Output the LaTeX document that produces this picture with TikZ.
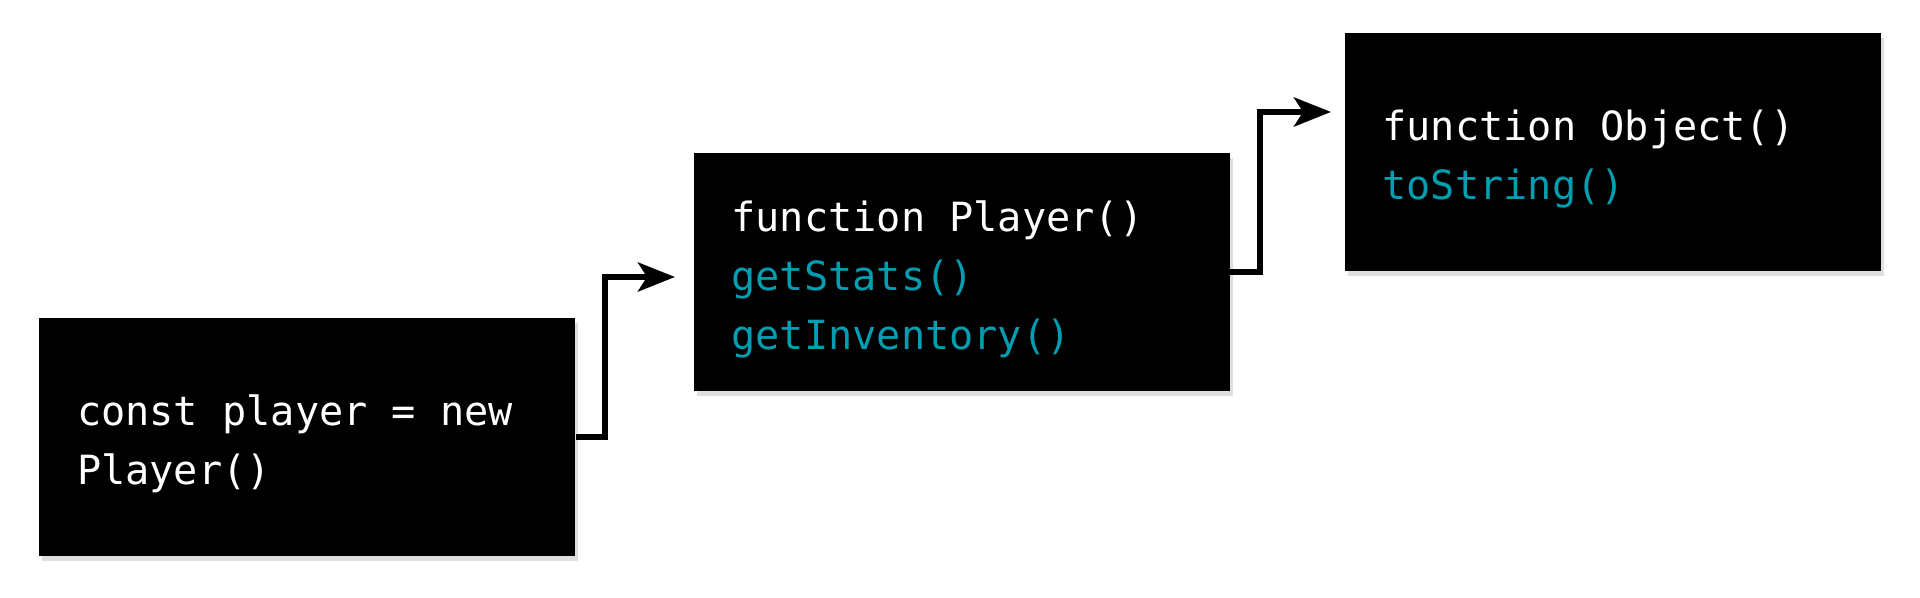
\documentclass[tikz,border=0pt]{standalone}
\usepackage{fontspec}
\setmonofont{DejaVu Sans Mono}
\usepackage{xcolor}
\usetikzlibrary{arrows.meta,shadows}
\definecolor{methodteal}{RGB}{0,158,176}

\begin{document}
\begin{tikzpicture}[auto]
    % Styles for boxes and lines
    \tikzset{
      box/.style={rectangle, fill=black, text=white, align=left, anchor=center,
        minimum width=5.36cm, minimum height=2.38cm, text width=4.6cm, inner xsep=0.38cm,
        font=\ttfamily\fontsize{11.45}{16.8}\selectfont,
        execute at begin node={\spaceskip=\fontcharwd\font`x\relax\rule{0pt}{12.8pt}},
        drop shadow={opacity=0.25, shadow xshift=0.03cm, shadow yshift=-0.05cm}},
      arrow/.style={line width=1.7pt, line join=miter, -{Stealth[length=3.7mm,width=2.9mm,inset=0.9mm]}}
    }
    \useasboundingbox (0,0) rectangle (19.2,-5.98);

    % Nodes with explicit coordinates
    \node[box] (player) at (3.07,-4.37) {const player = new\\Player()};
    \node[box] (ctor) at (9.615,-2.72) {function Player()\\
\textcolor{methodteal}{getStats()}\\
\textcolor{methodteal}{getInventory()}};
    \node[box] (object) at (16.125,-1.52) {function Object()\\
\textcolor{methodteal}{toString()}};

    % Free ends of the arrows
    \coordinate (tipA) at (6.75,-2.77);
    \coordinate (tipB) at (13.31,-1.12);

    % Arrows
    \draw[arrow] (player.east) -- ++(0.29,0) |- (tipA);
    \draw[arrow] (ctor.east) -- ++(0.30,0) |- (tipB);

\end{tikzpicture}
\end{document}
